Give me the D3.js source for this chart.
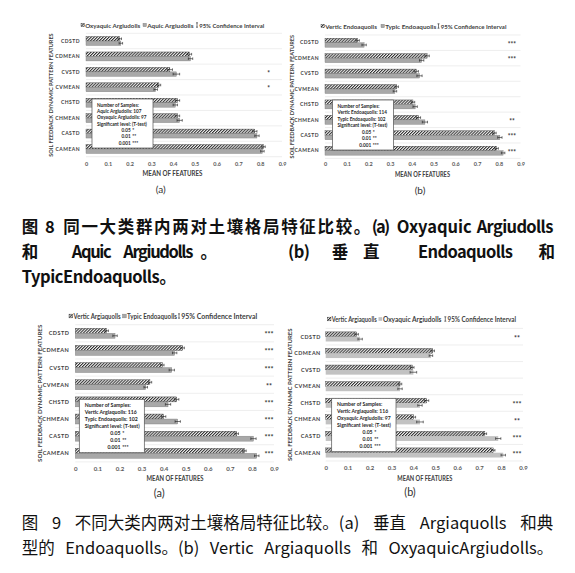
<!DOCTYPE html>
<html><head><meta charset="utf-8">
<script src="https://cdn.jsdelivr.net/npm/d3@7"></script>
<style>body{margin:0;background:#fff}svg{display:block}</style>
</head><body>
<svg id="fig" width="575" height="573"></svg>
<script>
// ---------------- DATA ----------------
const categories = ["CDSTD","CDMEAN","CVSTD","CVMEAN","CHSTD","CHMEAN","CASTD","CAMEAN"];
const xTicks = [0,0.1,0.2,0.3,0.4,0.5,0.6,0.7,0.8,0.9];
const yTitle = "SOIL FEEDBACK DYNAMIC PATTERN FEATURES";
const xTitle = "MEAN OF FEATURES";
const sigLevels = ["0.05","0.01","0.001"];
const sigMarks = ["*","**","***"];

// Fig 8 (a): Oxyaquic vs Aquic Argiudolls
const oxyaquic8a    = [0.155,0.475,0.385,0.335,0.420,0.420,0.775,0.815];
const oxyaquic8aErr = [0.008,0.010,0.012,0.008,0.010,0.010,0.010,0.008];
const aquic8a       = [0.160,0.480,0.415,0.320,0.410,0.430,0.785,0.810];
const aquic8aErr    = [0.008,0.010,0.015,0.008,0.010,0.012,0.010,0.008];
const sig8a = ["","","*","*","","","",""];
const legend8a = ["Oxyaquic Argiudolls","Aquic Argiudolls","95% Confidence Interval"];
const note8a = ["Number of Samples:","Aquic Argiudolls: 107","Oxyaquic Argiudolls: 97","Significant level: (T-test)"];

// Fig 8 (b): Vertic vs Typic Endoaquolls
const verticEndo8b    = [0.150,0.470,0.420,0.330,0.405,0.430,0.780,0.790];
const verticEndo8bErr = [0.008,0.010,0.010,0.008,0.008,0.010,0.008,0.008];
const typicEndo8b     = [0.180,0.445,0.435,0.322,0.415,0.460,0.805,0.820];
const typicEndo8bErr  = [0.010,0.010,0.012,0.008,0.010,0.012,0.010,0.008];
const sig8b = ["***","***","","","","**","***","***"];
const legend8b = ["Vertic Endoaquolls","Typic Endoaquolls","95% Confidence Interval"];
const note8b = ["Number of Samples:","Vertic Endoaquolls: 114","Typic Endoaquolls: 102","Significant level: (T-test)"];

// Fig 9 (a): Vertic Argiaquolls vs Typic Endoaquolls
const verticArgi9a    = [0.142,0.486,0.394,0.338,0.459,0.400,0.731,0.766];
const verticArgi9aErr = [0.008,0.008,0.008,0.008,0.010,0.010,0.008,0.008];
const typicEndo9a     = [0.180,0.450,0.437,0.319,0.420,0.464,0.807,0.822];
const typicEndo9aErr  = [0.010,0.010,0.012,0.008,0.012,0.012,0.012,0.010];
const sig9a = ["***","***","***","**","***","***","***","***"];
const legend9a = ["Vertic Argiaquolls","Typic Endoaquolls","95% Confidence Interval"];
const note9a = ["Number of Samples:","Vertic Argiaquolls: 116","Typic Endoaquolls: 102","Significant level: (T-test)"];

// Fig 9 (b): Vertic Argiaquolls vs Oxyaquic Argiudolls
const verticArgi9b    = [0.141,0.488,0.395,0.339,0.460,0.400,0.726,0.764];
const verticArgi9bErr = [0.008,0.008,0.008,0.008,0.010,0.010,0.008,0.008];
const oxyaquic9b      = [0.157,0.480,0.400,0.339,0.430,0.430,0.787,0.810];
const oxyaquic9bErr   = [0.010,0.008,0.015,0.010,0.010,0.015,0.012,0.010];
const sig9b = ["**","","","","***","**","***","***"];
const legend9b = ["Vertic Argiaquolls","Oxyaquic Argiudolls","95% Confidence Interval"];
const note9b = ["Number of Samples:","Vertic Argiaquolls: 116","Oxyaquic Argiudolls: 97","Significant level: (T-test)"];

const subLabels = ["(a)","(b)","(a)","(b)"];

// captions
const cap8Line1 = [["图",21.7],["8",45],["同一大类群内两对土壤格局特征比较。",63.3,307],["(a)",371.7,18.5],["Oxyaquic",396.7,75],["Argiudolls",476.7,76.6]];
const cap8Line2 = [["和",21.7],["Aquic",71.7,40],["Argiudolls",123.3,70],["。",200.5],["(b)",288,22],["垂",331.7],["直",363],["Endoaquolls",418,95],["和",538.5]];
const cap8Line3 = [["TypicEndoaquolls",21.7,138],["。",159.5]];
const cap9Line1 = ["图","9","不同大类内两对土壤格局特征比较。(a)","垂直","Argiaquolls","和典"];
const cap9Line2 = ["型的","Endoaquolls。(b)","Vertic","Argiaquolls","和","OxyaquicArgiudolls。"];

// ---------------- LAYOUT ----------------
const panels = [
  {h:oxyaquic8a,hE:oxyaquic8aErr,g:aquic8a,gE:aquic8aErr,sig:sig8a,legend:legend8a,note:note8a,sub:subLabels[0],
   L:{x0:86,x1:282,top:33.3,bottom:156.7,catRight:80,yTitleX:50,tickY:164,xTitleX:172.5,xTitleY:173,xTitleW:60,subX:160.8,subY:189,
      legendY:25,legendX:[81,143,196],legendW:[55,46.3,65],sigX:268.7,box:[92,99,61,49],fs:1,light:false}},
  {h:verticEndo8b,hE:verticEndo8bErr,g:typicEndo8b,gE:typicEndo8bErr,sig:sig8b,legend:legend8b,note:note8b,sub:subLabels[1],
   L:{x0:325,x1:520.5,top:35,bottom:158.4,catRight:319,yTitleX:291,tickY:164.5,xTitleX:422.5,xTitleY:173.5,xTitleW:55,subX:420,subY:189.5,
      legendY:26,legendX:[321,381,437.5],legendW:[51.7,51,65.7],sigX:512,box:[332.5,100,61,50],fs:1,light:false}},
  {h:verticArgi9a,hE:verticArgi9aErr,g:typicEndo9a,gE:typicEndo9aErr,sig:sig9a,legend:legend9a,note:note9a,sub:subLabels[2],
   L:{x0:75.3,x1:274,top:324.7,bottom:461.9,catRight:69.3,yTitleX:39.5,tickY:469,xTitleX:175,xTitleY:478,xTitleW:57,subX:159.3,subY:492,
      legendY:316,legendX:[69,122.5,178],legendW:[47,50,76],sigX:269,box:[79.3,399.3,65,53.4],fs:1.1,light:false}},
  {h:verticArgi9b,hE:verticArgi9bErr,g:oxyaquic9b,gE:oxyaquic9bErr,sig:sig9b,legend:legend9b,note:note9b,sub:subLabels[3],
   L:{x0:325.7,x1:523,top:328.4,bottom:461,catRight:320.7,yTitleX:289.5,tickY:468,xTitleX:424.8,xTitleY:478,xTitleW:55,subX:410,subY:491,
      legendY:319,legendX:[327.3,378.5,444.3],legendW:[45,58.5,68.5],sigX:517,box:[331.7,398.3,64.3,53.4],fs:1.08,light:true}}
];

const FONT = "Lato, 'Open Sans', sans-serif";
const CJK = "'Noto Sans CJK SC', 'Noto Sans', sans-serif";
const svg = d3.select('#fig');
svg.append('rect').attr('width',575).attr('height',573).attr('fill','#fff');

const defs = svg.append('defs');
const pat = defs.append('pattern').attr('id','hatch').attr('patternUnits','userSpaceOnUse')
  .attr('width',2.1).attr('height',2.1).attr('patternTransform','rotate(45)');
pat.append('rect').attr('width',2.1).attr('height',2.1).attr('fill','#f0f0f0');
pat.append('line').attr('x1',0.5).attr('x2',0.5).attr('y1',0).attr('y2',2.1).attr('stroke','#2e2e2e').attr('stroke-width',1);

function drawPanel(P){
  const L = P.L, fs = L.fs;
  const g = svg.append('g');
  const x = d3.scaleLinear().domain([0,0.9]).range([L.x0,L.x1]);
  const y = d3.scaleBand().domain(categories).range([L.top,L.bottom]).paddingInner(0.42).paddingOuter(0.21);
  const sub = d3.scaleBand().domain([0,1]).range([0,y.bandwidth()]);

  g.selectAll('line.grid').data(d3.range(categories.length+1)).join('line')
    .attr('x1',L.x0).attr('x2',L.x1)
    .attr('y1',i=>L.top+i*y.step()).attr('y2',i=>L.top+i*y.step())
    .attr('stroke','#e2e2e2').attr('stroke-width',0.6);

  const series = [
    {vals:P.h,err:P.hE,fill:'url(#hatch)',stroke:'#3a3a3a',sw:0.4},
    {vals:P.g,err:P.gE,fill:L.light?'#c2c2c2':'#a8a8a8',stroke:L.light?'none':'#7a7a7a',sw:0.4}
  ];
  series.forEach((s,k)=>{
    const data = categories.map((c,i)=>({c,v:s.vals[i],e:s.err[i]}));
    g.append('g').selectAll('rect').data(data).join('rect')
      .attr('x',x(0)).attr('y',d=>y(d.c)+sub(k))
      .attr('width',d=>x(d.v)-x(0)).attr('height',sub.bandwidth())
      .attr('fill',s.fill).attr('stroke',s.stroke).attr('stroke-width',s.sw);
    const eb = g.append('g').attr('stroke','#1e1e1e').attr('stroke-width',0.6);
    data.forEach(d=>{
      const cy = y(d.c)+sub(k)+sub.bandwidth()/2;
      eb.append('line').attr('x1',x(d.v-d.e)).attr('x2',x(d.v+d.e)).attr('y1',cy).attr('y2',cy);
      [d.v-d.e,d.v+d.e].forEach(t=>eb.append('line').attr('x1',x(t)).attr('x2',x(t)).attr('y1',cy-1.3).attr('y2',cy+1.3));
    });
  });

  const ax = g.append('g').attr('transform',`translate(0,${L.tickY})`)
    .call(d3.axisBottom(x).tickValues(xTicks).tickSize(0).tickPadding(0)
      .tickFormat(d=>d===0?'0':d3.format('.1f')(d)));
  ax.select('.domain').remove();
  ax.selectAll('text').attr('dy','0.35em').attr('font-size',5.5*fs).attr('font-family',FONT)
    .attr('font-weight',700).attr('fill','#595959');

  const ay = g.append('g').attr('transform',`translate(${L.catRight},0)`)
    .call(d3.axisLeft(y).tickSize(0).tickPadding(0));
  ay.select('.domain').remove();
  ay.selectAll('text').attr('dy','0.35em').attr('font-size',5.0*fs).attr('font-family',FONT)
    .attr('font-weight',700).attr('letter-spacing',0.45).attr('fill','#404040');

  g.append('text').attr('transform',`translate(${L.yTitleX},${(L.top+L.bottom)/2}) rotate(-90)`)
    .attr('text-anchor','middle').attr('dominant-baseline','central')
    .attr('font-size',5.6*fs).attr('font-family',FONT).attr('font-weight',700).attr('fill','#404040')
    .attr('textLength',(L.bottom-L.top)).attr('lengthAdjust','spacing')
    .text(yTitle);

  g.append('text').attr('x',L.xTitleX-L.xTitleW/2).attr('y',L.xTitleY)
    .attr('dominant-baseline','central').attr('font-size',6.8*fs).attr('font-family',FONT)
    .attr('font-weight',700).attr('fill','#404040')
    .attr('textLength',L.xTitleW).attr('lengthAdjust','spacingAndGlyphs').text(xTitle);

  g.append('text').attr('x',L.subX).attr('y',L.subY).attr('text-anchor','middle')
    .attr('dominant-baseline','central').attr('font-size',10*fs).attr('font-family',FONT)
    .attr('fill','#333').text(P.sub);

  const lg = g.append('g').attr('font-family',FONT).attr('font-size',6*fs).attr('font-weight',700).attr('fill','#404040');
  const sz = 3.4*fs;
  P.legend.forEach((name,i)=>{
    const lx = L.legendX[i];
    let tx;
    if(i<2){
      lg.append('rect').attr('x',lx).attr('y',L.legendY-sz/2).attr('width',sz).attr('height',sz)
        .attr('fill',series[i].fill).attr('stroke',i===0?'#3a3a3a':(L.light?'none':'#7a7a7a')).attr('stroke-width',0.4);
      tx = lx+sz+0.8;
    } else {
      const e = lg.append('g').attr('stroke','#1e1e1e').attr('stroke-width',0.6);
      e.append('line').attr('x1',lx+1).attr('x2',lx+1).attr('y1',L.legendY-2.2).attr('y2',L.legendY+2.2);
      e.append('line').attr('x1',lx).attr('x2',lx+2).attr('y1',L.legendY-2.2).attr('y2',L.legendY-2.2);
      e.append('line').attr('x1',lx).attr('x2',lx+2).attr('y1',L.legendY+2.2).attr('y2',L.legendY+2.2);
      tx = lx+3.2;
    }
    lg.append('text').attr('x',tx).attr('y',L.legendY).attr('dominant-baseline','central')
      .attr('textLength',L.legendW[i]).attr('lengthAdjust','spacingAndGlyphs').text(name);
  });

  g.append('g').selectAll('text').data(categories.map((c,i)=>({c,s:P.sig[i]}))).join('text')
    .attr('x',L.sigX).attr('y',d=>y(d.c)+y.bandwidth()/2+1.5).attr('text-anchor','middle')
    .attr('dominant-baseline','central').attr('font-size',6.5*fs).attr('font-family',FONT)
    .attr('font-weight',700).attr('fill','#333').text(d=>d.s);

  const [bx,by,bw,bh] = L.box;
  g.append('rect').attr('x',bx).attr('y',by).attr('width',bw).attr('height',bh)
    .attr('fill','#fff').attr('stroke','#505050').attr('stroke-width',0.7);
  const lh = (bh-11*fs)/6;
  const nt = g.append('g').attr('font-family',FONT).attr('font-size',4.7*fs).attr('font-weight',700).attr('fill','#262626');
  P.note.forEach((t,i)=>{
    nt.append('text').attr('x',bx+5*fs).attr('y',by+5.5*fs+i*lh).attr('dominant-baseline','central').text(t);
  });
  sigLevels.forEach((t,i)=>{
    const yy = by+5.5*fs+(4+i)*lh;
    nt.append('text').attr('x',bx+0.635*bw).attr('y',yy).attr('text-anchor','end').attr('dominant-baseline','central').text(t);
    nt.append('text').attr('x',bx+0.635*bw+1.6).attr('y',yy).attr('dominant-baseline','central').text(sigMarks[i]);
  });
}
panels.forEach(drawPanel);

// ---------------- CAPTIONS ----------------
const CAP = 16.5;
function placedLine(tokens,yy,weight){
  tokens.forEach(t=>{
    const el = svg.append('text').attr('x',t[1]).attr('y',yy).attr('dominant-baseline','central')
      .attr('font-family',CJK).attr('font-size',CAP).attr('font-weight',weight).attr('fill','#111').text(t[0]);
    if(t[2]) el.attr('textLength',t[2]).attr('lengthAdjust','spacing');
  });
}
placedLine(cap8Line1,225.5,700);
placedLine(cap8Line2,251.3,700);
placedLine(cap8Line3,276,700);

function justifiedLine(tokens,yy,x0,x1,weight){
  const els = tokens.map(t=>svg.append('text').attr('y',yy).attr('dominant-baseline','central')
    .attr('font-family',CJK).attr('font-size',CAP).attr('font-weight',weight).attr('fill','#111').text(t));
  const w = els.map(e=>e.node().getComputedTextLength());
  const gap = (x1-x0-d3.sum(w))/(tokens.length-1);
  let cx = x0;
  els.forEach((e,i)=>{e.attr('x',cx); cx += w[i]+gap;});
}
justifiedLine(cap9Line1,521.5,21.7,553.3,400);
justifiedLine(cap9Line2,547,21.7,553.3,400);
</script>
</body></html>
